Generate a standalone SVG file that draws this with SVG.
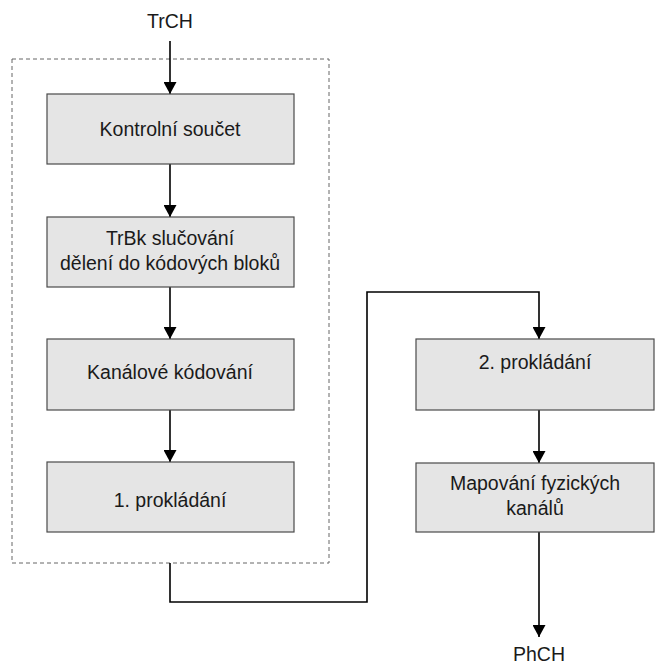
<svg xmlns="http://www.w3.org/2000/svg" width="655" height="666" viewBox="0 0 655 666">
<defs>
<marker id="ah" markerWidth="12" markerHeight="13" viewBox="0 0 12 13" refX="12" refY="6.5" orient="auto" markerUnits="userSpaceOnUse">
<path d="M0,0 L12,6.5 L0,13 Z" fill="#000"/>
</marker>
</defs>
<style>
.box{fill:#e5e5e5;stroke:#4a4a4a;stroke-width:1.2}
.t{font-family:"Liberation Sans",Arial,sans-serif;font-size:19.5px;fill:#1a1a1a;text-anchor:middle}
.c{fill:none;stroke:#000;stroke-width:1.6}
.d{fill:none;stroke:#666;stroke-width:1;stroke-dasharray:4,3}
</style>
<rect width="655" height="666" fill="#fff"/>
<rect class="d" x="12" y="59" width="317" height="504"/>
<g id="connectors">
<line class="c" x1="170" y1="41" x2="170" y2="94" marker-end="url(#ah)"/>
<line class="c" x1="170" y1="164" x2="170" y2="217" marker-end="url(#ah)"/>
<line class="c" x1="170" y1="287" x2="170" y2="339" marker-end="url(#ah)"/>
<line class="c" x1="170" y1="410" x2="170" y2="462" marker-end="url(#ah)"/>
<polyline class="c" points="170,563 170,602 367,602 367,292 539,292 539,339" marker-end="url(#ah)"/>
<line class="c" x1="539" y1="410" x2="539" y2="463" marker-end="url(#ah)"/>
<line class="c" x1="539" y1="532" x2="539" y2="637" marker-end="url(#ah)"/>
</g>
<g id="trch"><text class="t" x="170" y="28">TrCH</text></g>
<g id="n1"><rect class="box" x="47" y="94" width="247" height="70"/><text class="t" x="170" y="136">Kontrolní součet</text></g>
<g id="n2"><rect class="box" x="47" y="217" width="247" height="70"/><text class="t" x="170" y="245">TrBk slučování</text><text class="t" x="170" y="270">dělení do kódových bloků</text></g>
<g id="n3"><rect class="box" x="47" y="339" width="247" height="71"/><text class="t" x="170" y="379">Kanálové kódování</text></g>
<g id="n4"><rect class="box" x="47" y="462" width="247" height="70"/><text class="t" x="170" y="507">1. prokládání</text></g>
<g id="n5"><rect class="box" x="416" y="339" width="238" height="71"/><text class="t" x="535" y="369">2. prokládání</text></g>
<g id="n6"><rect class="box" x="416" y="463" width="238" height="69"/><text class="t" x="535" y="490">Mapování fyzických</text><text class="t" x="535" y="515">kanálů</text></g>
<g id="phch"><text class="t" x="539" y="661">PhCH</text></g>
</svg>
